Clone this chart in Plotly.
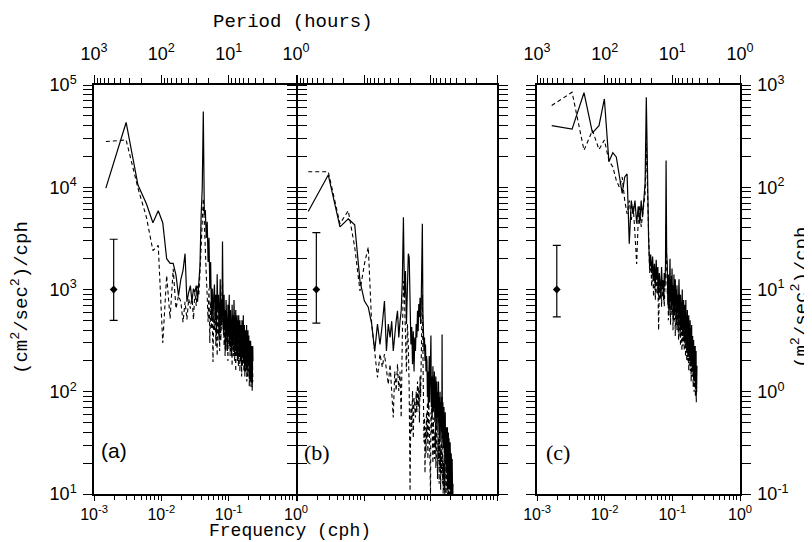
import plotly.graph_objects as go

# ---------------- data ----------------
# frequency resolution (cph) of each spectrum; frequencies are k * DF, k = 1..N
DF_A = 0.0015
DF_B = 0.00145
DF_C = 0.00165

SOLID_A = [
    9800, 43000, 10500, 6900, 4500, 5900, 4500, 2000, 1800, 1800,
    1380, 870, 1260, 1540, 2240, 760, 940, 1090, 760, 1020,
    940, 1090, 760, 1170, 1720, 5300, 9800, 55000, 5400, 6000,
    3200, 4600, 1860, 3200, 1020, 1860, 520, 1020, 480, 870,
    1120, 500, 890, 355, 1410, 630, 890, 316, 710, 1260,
    400, 790, 450, 2950, 710, 355, 890, 400, 630, 280,
    790, 400, 560, 250, 710, 355, 500, 890, 280, 450,
    630, 316, 500, 224, 710, 400, 280, 560, 355, 790,
    280, 500, 250, 450, 630, 224, 400, 316, 560, 200,
    500, 280, 400, 560, 224, 355, 250, 500, 316, 200,
    450, 250, 355, 178, 500, 280, 400, 224, 316, 560,
    200, 355, 250, 450, 158, 316, 224, 400, 280, 178,
    355, 224, 450, 200, 280, 158, 316, 250, 400, 178,
    280, 200, 355, 141, 250, 316, 178, 280, 126, 224,
    316, 178, 250, 126, 280, 200, 141, 250, 112, 224, 158, 280, 200,
]
DASHED_A = [
    28000, 29000, 9800, 5100, 2400, 2700, 300, 1370, 520, 1590,
    650, 870, 760, 480, 760, 510, 810, 650, 870, 510,
    940, 690, 1090, 870, 1480, 2500, 5400, 7800, 4600, 2950,
    1380, 870, 480, 1020, 300, 760, 410, 650, 195, 550,
    400, 710, 280, 560, 224, 790, 355, 500, 250, 630,
    316, 560, 890, 1260, 400, 630, 280, 500, 224, 450,
    250, 560, 316, 400, 200, 500, 280, 355, 630, 224,
    400, 250, 450, 316, 178, 500, 280, 355, 224, 400,
    316, 200, 400, 280, 158, 355, 250, 450, 224, 316,
    224, 355, 178, 280, 400, 200, 316, 158, 280, 250,
    200, 316, 224, 141, 355, 250, 178, 280, 400, 200,
    280, 158, 250, 200, 355, 141, 224, 280, 178, 250,
    158, 280, 200, 126, 250, 178, 316, 141, 224, 178,
    250, 141, 200, 280, 112, 224, 158, 200, 126, 250,
    158, 224, 112, 200, 141, 250, 126, 178, 100, 200, 141, 178, 126,
]

SOLID_B = [
    5800, 13200, 4100, 4900, 4300, 1210, 770, 670, 460, 250,
    460, 290, 460, 770, 250, 460, 340, 490, 250, 390,
    490, 620, 340, 490, 620, 1210, 5100, 830, 1520, 460,
    1120, 2240, 2050, 720, 290, 430, 186, 390, 158, 340,
    250, 460, 340, 620, 390, 720, 540, 830, 460, 720,
    1320, 4400, 620, 460, 250, 340, 200, 290, 158, 224,
    200, 89, 158, 71, 141, 224, 79, 126, 282, 355,
    71, 141, 56, 112, 178, 63, 126, 79, 158, 50,
    112, 63, 141, 45, 89, 126, 56, 100, 40, 79,
    126, 50, 89, 35, 71, 100, 45, 79, 32, 63,
    89, 40, 363, 56, 35, 79, 28, 56, 40, 71,
    25, 50, 20, 40, 63, 22, 35, 18, 45, 28,
    16, 35, 22, 45, 14, 28, 20, 40, 12.6, 25,
    35, 16, 25, 11, 22, 32, 12.6, 20, 8.9, 18,
    25, 11, 20, 7.9, 16, 22, 10, 14, 7.1, 12.6,
]
DASHED_B = [
    14200, 14200, 4400, 5900, 2600, 970, 1780, 2600, 460, 250,
    138, 234, 174, 234, 158, 118, 186, 102, 56, 158,
    102, 186, 102, 158, 56, 340, 1210, 830, 340, 158,
    460, 290, 102, 10.7, 76, 41, 102, 35, 87, 65,
    56, 100, 63, 126, 71, 112, 50, 141, 89, 200,
    500, 890, 250, 79, 32, 56, 16, 45, 25, 63,
    35, 79, 22, 50, 89, 28, 56, 18, 10, 63,
    40, 71, 25, 45, 20, 56, 32, 50, 22, 40,
    28, 50, 18, 35, 56, 20, 32, 14, 28, 40,
    22, 35, 12.6, 25, 45, 18, 28, 11, 22, 32,
    16, 28, 89, 20, 12.6, 25, 10, 20, 14, 22,
    11, 20, 8.9, 16, 25, 10, 18, 7.9, 14, 20,
    8.9, 16, 11, 20, 7.1, 12.6, 8.9, 18, 6.3, 11,
    16, 7.9, 12.6, 6.3, 10, 14, 7.1, 11, 5.6, 8.9,
    12.6, 6.3, 10, 5, 8.9, 11, 5.6, 7.9, 5, 7.1,
]

SOLID_C = [
    400, 370, 840, 340, 400, 730, 178, 218, 198, 131,
    87, 126, 135, 28, 74, 55, 74, 44, 65, 44,
    74, 51, 87, 110, 760, 87, 32, 16.6, 22, 14.5,
    21, 12.3, 17.8, 10.7, 19.5, 12.3, 16.6, 8.5, 14.5, 11.5,
    8.5, 16.6, 10.7, 12.3, 7.9, 14.5, 10.7, 16.6, 183, 22,
    17.8, 7.1, 14, 5.6, 11, 20, 7.9, 12.6, 6.3, 16,
    7.1, 11, 5, 14, 8.9, 5.6, 12.6, 7.1, 10, 4.5,
    11, 6.3, 8.9, 4, 7.9, 12.6, 5, 7.1, 3.5, 8.9,
    5, 8.9, 4, 7.1, 10, 3.5, 6.3, 4.5, 7.9, 3.2,
    6.3, 3.5, 7.1, 2.8, 5, 7.9, 3.2, 5.6, 2.5, 4.5,
    6.3, 2.8, 5, 2.2, 4, 5.6, 2.5, 4.5, 2, 3.5,
    5, 2.2, 4, 1.8, 3.5, 2.5, 4.5, 2, 3.2, 1.6,
    3.5, 2, 2.8, 1.4, 3.2, 2.2, 1.6, 2.8, 1.26, 2.5,
    1.6, 2.8, 1.12, 2.2, 1.4, 2.5, 1.0, 2, 1.26, 1.8,
]
DASHED_C = [
    630, 850, 230, 360, 234, 290, 183, 158, 117, 100,
    126, 74, 55, 74, 48, 65, 35, 17.8, 48, 65,
    41, 55, 65, 87, 270, 74, 22, 14.5, 19.5, 10.7,
    16.6, 8.5, 14.5, 7.9, 15.5, 9.1, 12.3, 4, 11.5, 7.9,
    10.7, 6.8, 12.3, 8.5, 11.5, 6.8, 10, 14.5, 44, 14.5,
    8.9, 14, 5, 10, 6.3, 12.6, 4.5, 8.9, 14, 5.6,
    10, 4, 7.9, 5, 11, 6.3, 3.5, 8.9, 5, 7.1,
    4, 7.9, 4.5, 6.3, 3.2, 7.1, 4, 8.9, 5, 2.8,
    6.3, 3.5, 5.6, 2.5, 5, 7.1, 2.8, 4.5, 3.2, 5.6,
    2.5, 4.5, 3.2, 5.6, 2.2, 4, 2.8, 5, 2, 3.5,
    2.8, 4.5, 2, 3.5, 2.5, 1.6, 3.2, 2.2, 4, 1.8,
    2.8, 1.6, 3.2, 2.2, 1.26, 2.5, 1.8, 2.8, 1.4, 2.2,
    1.6, 2.5, 1.12, 2, 1.4, 2.2, 1.0, 1.8, 1.26, 2,
    1.12, 1.8, 0.89, 1.6, 1.12, 1.4, 0.79, 1.26, 1.0, 1.12,
]

# 95% confidence bars (frequency, centre, upper, lower) for panels a, b, c
ERR_FREQ = [0.00196, 0.00192, 0.00196]
ERR_CENTER = [1000, 1000, 10]
ERR_UPPER = [3100, 3600, 27]
ERR_LOWER = [500, 470, 5.4]

FREQ_TICKS = [1e-3, 1e-2, 1e-1, 1]
FREQ_TICK_TEXT = ["10<sup>-3</sup>", "10<sup>-2</sup>", "10<sup>-1</sup>", "10<sup>0</sup>"]
PERIOD_TICKS = [1000, 100, 10, 1]
PERIOD_TICK_TEXT = ["10<sup>3</sup>", "10<sup>2</sup>", "10<sup>1</sup>", "10<sup>0</sup>"]
Y_TICKS_AB = [10, 100, 1000, 10000, 100000]
Y_TICK_TEXT_AB = ["10<sup>1</sup>", "10<sup>2</sup>", "10<sup>3</sup>", "10<sup>4</sup>", "10<sup>5</sup>"]
Y_TICKS_C = [0.1, 1, 10, 100, 1000]
Y_TICK_TEXT_C = ["10<sup>-1</sup>", "10<sup>0</sup>", "10<sup>1</sup>", "10<sup>2</sup>", "10<sup>3</sup>"]

FREQ_A = [DF_A * k for k in range(1, len(SOLID_A) + 1)]
FREQ_B = [DF_B * k for k in range(1, len(SOLID_B) + 1)]
FREQ_C = [DF_C * k for k in range(1, len(SOLID_C) + 1)]

# ---------------- layout geometry ----------------
W, H = 812, 542
ML, MR, MT, MB = 86, 80, 77, 56
PW = W - ML - MR
PH = H - MT - MB


def px_x(p):
    return (p - ML) / PW


def px_y(p):
    return (H - MB - p) / PH


def minor_vals(d0, d1):
    return [m * 10.0 ** d for d in range(d0, d1) for m in range(2, 10)]


TICKFONT = dict(family="Liberation Sans, Arial, sans-serif", size=18, color="black")
BOTTOMFONT = dict(family="Liberation Sans, Arial, sans-serif", size=16, color="black")
TITLEFONT = dict(family="Liberation Mono, Courier New, monospace", size=19, color="black")
LINE = dict(showline=True, linecolor="black", linewidth=1.5, showgrid=False,
            zeroline=False, tickcolor="black", tickwidth=1.2)

DOM_A = [0, px_x(288)]
DOM_B = [px_x(289.5), px_x(489)]
DOM_C = [px_x(529), 1]

fig = go.Figure()

panels = [
    ("x", "y", "x4", FREQ_A, SOLID_A, DASHED_A, 0),
    ("x2", "y2", "x5", FREQ_B, SOLID_B, DASHED_B, 1),
    ("x3", "y3", "x6", FREQ_C, SOLID_C, DASHED_C, 2),
]
for xa, ya, xtop_id, fr, sol, das, i in panels:
    fig.add_trace(go.Scatter(x=fr, y=das, mode="lines", xaxis=xa, yaxis=ya,
                             line=dict(color="black", width=1.1, dash="4px,3px"),
                             hoverinfo="skip"))
    fig.add_trace(go.Scatter(x=fr, y=sol, mode="lines", xaxis=xa, yaxis=ya,
                             line=dict(color="black", width=1.2), hoverinfo="skip"))
    fig.add_trace(go.Scatter(
        x=[ERR_FREQ[i]], y=[ERR_CENTER[i]], mode="markers", xaxis=xa, yaxis=ya,
        marker=dict(symbol="diamond", size=6, color="black"),
        error_y=dict(type="data", symmetric=False,
                     array=[ERR_UPPER[i] - ERR_CENTER[i]],
                     arrayminus=[ERR_CENTER[i] - ERR_LOWER[i]],
                     color="black", thickness=1.2, width=4),
        hoverinfo="skip"))
    # same spectrum against period (1/f) on the top axis, kept invisible,
    # so that the period axis is laid out by the library
    fig.add_trace(go.Scatter(x=[1.0 / f for f in fr], y=sol, mode="lines",
                             xaxis=xtop_id, yaxis=ya, opacity=0,
                             line=dict(color="black", width=0), hoverinfo="skip"))


def xbottom(domain, anchor, labels):
    return dict(LINE, type="log", range=[-3, 0], domain=domain, anchor=anchor,
                side="bottom", tickmode="array", tickvals=FREQ_TICKS,
                ticktext=FREQ_TICK_TEXT, showticklabels=labels,
                ticks="outside", ticklen=5, tickfont=BOTTOMFONT,
                minor=dict(tickmode="array", tickvals=minor_vals(-3, 0),
                           ticks="outside", ticklen=4, tickcolor="black", tickwidth=1))


def xtop(over, anchor, labels):
    return dict(LINE, type="log", range=[3, 0], overlaying=over, anchor=anchor,
                side="top", tickmode="array", tickvals=PERIOD_TICKS,
                ticktext=PERIOD_TICK_TEXT, showticklabels=labels,
                ticks="outside", ticklen=8, tickfont=TICKFONT,
                ticklabelstandoff=8,
                minor=dict(tickmode="array", tickvals=minor_vals(0, 3),
                           ticks="outside", ticklen=5, tickcolor="black", tickwidth=1))


def yaxis(anchor, rng, vals, text, labels, side, d0, d1):
    return dict(LINE, type="log", range=rng, domain=[0, 1], anchor=anchor,
                side=side, mirror="allticks", tickmode="array", tickvals=vals,
                ticktext=text, showticklabels=labels,
                ticks="outside", ticklen=9, tickfont=TICKFONT,
                ticklabelstandoff=3,
                minor=dict(tickmode="array", tickvals=minor_vals(d0, d1),
                           ticks="outside", ticklen=5, tickcolor="black", tickwidth=1))


fig.update_layout(
    width=W, height=H,
    margin=dict(l=ML, r=MR, t=MT, b=MB, pad=0),
    paper_bgcolor="white", plot_bgcolor="white",
    showlegend=False,
    xaxis=xbottom(DOM_A, "y", True),
    xaxis2=xbottom(DOM_B, "y2", False),
    xaxis3=xbottom(DOM_C, "y3", True),
    xaxis4=xtop("x", "y", True),
    xaxis5=xtop("x2", "y2", False),
    xaxis6=xtop("x3", "y3", True),
    yaxis=yaxis("x", [1, 5], Y_TICKS_AB, Y_TICK_TEXT_AB, True, "left", 1, 5),
    yaxis2=yaxis("x2", [1, 5], Y_TICKS_AB, Y_TICK_TEXT_AB, False, "left", 1, 5),
    yaxis3=yaxis("x3", [-1, 3], Y_TICKS_C, Y_TICK_TEXT_C, True, "right", -1, 3),
)

annotations = [
    dict(text="Period (hours)", x=px_x(285), y=px_y(14), font=TITLEFONT),
    dict(text="Frequency (cph)", x=px_x(282), y=px_y(523),
         font=dict(TITLEFONT, size=18)),
    dict(text="(cm<sup>2</sup>/sec<sup>2</sup>)/cph", x=px_x(12), y=px_y(290),
         textangle=-90, font=TITLEFONT),
    dict(text="(m<sup>2</sup>/sec<sup>2</sup>)/cph", x=px_x(792), y=px_y(290),
         textangle=-90, font=TITLEFONT),
    dict(text="(a)", x=px_x(106), y=px_y(442),
         font=dict(family="Liberation Sans, Arial, sans-serif", size=21, color="black")),
    dict(text="(b)", x=px_x(309), y=px_y(444),
         font=dict(family="Liberation Serif, Times New Roman, serif", size=22, color="black")),
    dict(text="(c)", x=px_x(550), y=px_y(444),
         font=dict(family="Liberation Serif, Times New Roman, serif", size=22, color="black")),
]
for a in annotations:
    a.update(xref="paper", yref="paper", showarrow=False, xanchor="center", yanchor="middle")
fig.update_layout(annotations=annotations)

fig.write_html("out.html")
